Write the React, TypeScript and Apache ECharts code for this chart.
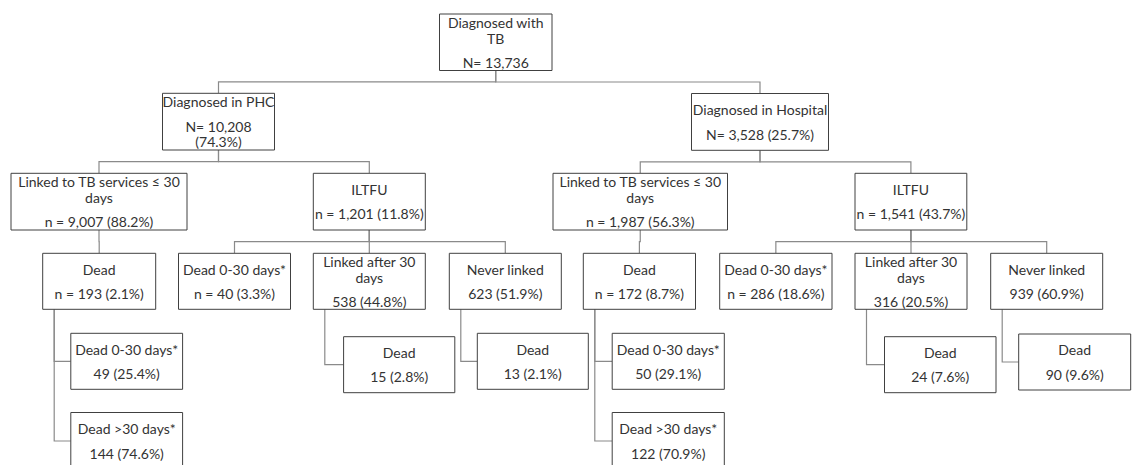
import React, { useEffect, useRef } from "react";
import * as echarts from "echarts";

// ---- data (text content of each node) ----
const nodeTitles: string[] = [
  "Diagnosed with\nTB",
  "Diagnosed in PHC",
  "Diagnosed in Hospital",
  "Linked to TB services ≤ 30\ndays",
  "ILTFU",
  "Linked to TB services ≤ 30\ndays",
  "ILTFU",
  "Dead",
  "Dead 0-30 days*",
  "Linked after 30\ndays",
  "Never linked",
  "Dead",
  "Dead 0-30 days*",
  "Linked after 30\ndays",
  "Never linked",
  "Dead 0-30 days*",
  "Dead >30 days*",
  "Dead",
  "Dead",
  "Dead 0-30 days*",
  "Dead >30 days*",
  "Dead",
  "Dead",
];

const nodeCounts: string[] = [
  "N= 13,736",
  "N= 10,208\n(74.3%)",
  "N= 3,528 (25.7%)",
  "n = 9,007 (88.2%)",
  "n = 1,201 (11.8%)",
  "n = 1,987 (56.3%)",
  "n = 1,541 (43.7%)",
  "n = 193 (2.1%)",
  "n = 40 (3.3%)",
  "538 (44.8%)",
  "623 (51.9%)",
  "n = 172 (8.7%)",
  "n = 286 (18.6%)",
  "316 (20.5%)",
  "939 (60.9%)",
  "49 (25.4%)",
  "144 (74.6%)",
  "15 (2.8%)",
  "13 (2.1%)",
  "50 (29.1%)",
  "122 (70.9%)",
  "24 (7.6%)",
  "90 (9.6%)",
];

// tree structure: parent of each node (-1 = root)
const parentIndex: number[] = [-1, 0, 0, 1, 1, 2, 2, 3, 4, 4, 4, 5, 6, 6, 6, 7, 7, 9, 10, 11, 11, 13, 14];
// connector kind for each node towards its parent
const linkKind: string[] = [
  "none", "tree", "tree", "tree", "tree", "tree", "tree", "tree", "tree", "tree", "tree",
  "tree", "tree", "tree", "tree", "side", "side", "side", "side", "side", "side", "side", "side",
];

// ---- layout (box corners in page units: left, top, right, bottom) ----
const nodeBoxes: number[][] = [
  [439.5, 14, 552, 70.5],
  [162.5, 93.3, 274.5, 150],
  [691.5, 93.5, 828.5, 150.3],
  [11, 173.3, 187, 230],
  [313.3, 173.3, 425.3, 230],
  [553, 173.3, 727.5, 230],
  [855, 173.3, 966.8, 230],
  [42.7, 253.3, 155.7, 309.3],
  [178.5, 253.3, 290.5, 309.3],
  [313.3, 253.3, 425.3, 309.3],
  [449.3, 253.3, 561.3, 309.3],
  [583.3, 253.3, 695.5, 309.3],
  [719.7, 253.3, 832, 309.3],
  [855, 253.3, 967, 309.3],
  [990.7, 253.3, 1102.7, 309.3],
  [70.8, 333.3, 182.6, 389.3],
  [70.8, 412.5, 182.6, 469.5],
  [343.6, 336.7, 454.8, 392.7],
  [477.3, 333.3, 588.3, 389.3],
  [612.2, 333.3, 724.3, 389.3],
  [612.2, 412.5, 724.3, 469.5],
  [884.5, 336.7, 996, 392.7],
  [1018.7, 334, 1130.7, 390],
];

const W = 1134;
const H = 465;
const SIDE_OFFSET = 11.5;
const TITLE_STEP = 16;
const GAP_STEP = 24.5;
const COUNT_STEP = 15.7;
const FONT = "Lato, 'Open Sans', sans-serif";
const FONT_SIZE = 14;
const TEXT_COLOR = "#333333";
const BOX_COLOR = "#404040";
const LINK_COLOR = "#8a8a8a";

export default function App() {
  const ref = useRef<HTMLDivElement>(null);

  useEffect(() => {
    if (!ref.current) return;
    const chart = echarts.init(ref.current, undefined, { renderer: "svg" });

    const linkData = nodeBoxes
      .map((_, i) => [i, parentIndex[i]])
      .filter((d) => d[1] >= 0);

    const boxData = nodeBoxes.map((b, i) => [b[0], b[1], b[2], b[3], i]);

    const option: any = {
      animation: false,
      backgroundColor: "#ffffff",
      grid: { left: 0, right: 0, top: 0, bottom: 0 },
      xAxis: { type: "value", min: 0, max: W, show: false },
      yAxis: { type: "value", min: 0, max: H, inverse: true, show: false },
      series: [
        {
          type: "custom",
          name: "links",
          silent: true,
          clip: false,
          data: linkData,
          renderItem: (params: any, api: any) => {
            const child = api.value(0);
            const parent = api.value(1);
            const c = nodeBoxes[child];
            const p = nodeBoxes[parent];
            let pts: number[][];
            if (linkKind[child] === "side") {
              const x = p[0] + SIDE_OFFSET;
              const cy = (c[1] + c[3]) / 2;
              pts = [
                [x, p[3]],
                [x, cy],
                [c[0], cy],
              ];
            } else {
              const px = (p[0] + p[2]) / 2;
              const cx = (c[0] + c[2]) / 2;
              const bus = (p[3] + c[1]) / 2;
              pts = [
                [px, p[3]],
                [px, bus],
                [cx, bus],
                [cx, c[1]],
              ];
            }
            return {
              type: "polyline",
              shape: { points: pts.map((q) => api.coord(q)) },
              style: { stroke: LINK_COLOR, lineWidth: 1.2, fill: "none" },
            };
          },
        },
        {
          type: "custom",
          name: "boxes",
          silent: true,
          clip: false,
          encode: { x: [0, 2], y: [1, 3] },
          data: boxData,
          renderItem: (params: any, api: any) => {
            const i = api.value(4);
            const a = api.coord([api.value(0), api.value(1)]);
            const b = api.coord([api.value(2), api.value(3)]);
            const titles = nodeTitles[i].split("\n");
            const counts = nodeCounts[i].split("\n");
            const offsets: number[] = [];
            let y = 0;
            titles.forEach((_, k) => {
              if (k > 0) y += TITLE_STEP;
              offsets.push(y);
            });
            counts.forEach((_, k) => {
              y += k === 0 ? GAP_STEP : COUNT_STEP;
              offsets.push(y);
            });
            const span = y;
            const cx = (a[0] + b[0]) / 2;
            const cy = (a[1] + b[1]) / 2;
            const lines = titles.concat(counts);
            const children: any[] = [
              {
                type: "rect",
                shape: { x: a[0], y: a[1], width: b[0] - a[0], height: b[1] - a[1] },
                style: { fill: "#ffffff", stroke: BOX_COLOR, lineWidth: 1 },
              },
            ];
            lines.forEach((t, k) => {
              children.push({
                type: "text",
                style: {
                  text: t,
                  x: cx,
                  y: cy - span / 2 + offsets[k],
                  align: "center",
                  verticalAlign: "middle",
                  fill: TEXT_COLOR,
                  fontSize: FONT_SIZE,
                  fontFamily: FONT,
                },
              });
            });
            return { type: "group", children };
          },
        },
      ],
    };

    chart.setOption(option);
    return () => chart.dispose();
  }, []);

  return (
    <div
      ref={ref}
      style={{ position: "fixed", left: 0, top: 0, width: W, height: H, background: "#fff" }}
    />
  );
}
